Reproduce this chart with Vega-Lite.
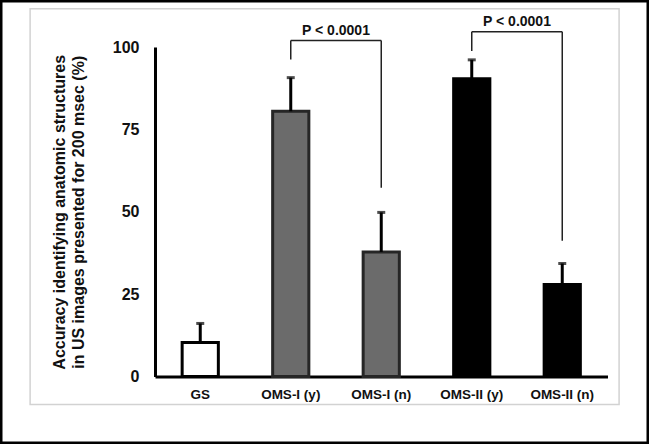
{
  "$schema": "https://vega.github.io/schema/vega-lite/v6.json",
  "width": 649,
  "height": 444,
  "autosize": "none",
  "padding": 0,
  "background": "white",
  "config": {
    "view": {"stroke": "black", "strokeWidth": 5},
    "font": "Liberation Sans",
    "text": {"font": "Liberation Sans"}
  },
  "datasets": {
    "groups": [
      {"group": "GS", "accuracy": 10.3, "upper": 16.1, "kind": "GS"},
      {"group": "OMS-I (y)", "accuracy": 80.5, "upper": 90.7, "kind": "OMS-I"},
      {"group": "OMS-I (n)", "accuracy": 37.8, "upper": 49.8, "kind": "OMS-I"},
      {"group": "OMS-II (y)", "accuracy": 90.4, "upper": 96.1, "kind": "OMS-II"},
      {"group": "OMS-II (n)", "accuracy": 27.9, "upper": 34.3, "kind": "OMS-II"}
    ],
    "legs": [
      {"group": "OMS-I (y)", "low": 96.2, "high": 102.0},
      {"group": "OMS-I (n)", "low": 57.3, "high": 102.0},
      {"group": "OMS-II (y)", "low": 98.8, "high": 104.6},
      {"group": "OMS-II (n)", "low": 41.2, "high": 104.6}
    ],
    "comparisons": [
      {"from": "OMS-I (y)", "to": "OMS-I (n)", "level": 102.0, "labelY": 105.0, "label": "P < 0.0001"},
      {"from": "OMS-II (y)", "to": "OMS-II (n)", "level": 104.6, "labelY": 107.6, "label": "P < 0.0001"}
    ],
    "panel": [
      {"first": "GS", "last": "OMS-II (n)", "bottom": -8.5, "top": 111.6}
    ]
  },
  "layer": [
    {
      "data": {"name": "groups"},
      "mark": {"type": "bar", "strokeWidth": 3},
      "encoding": {
        "x": {
          "field": "group",
          "type": "nominal",
          "scale": {
            "domain": ["GS", "OMS-I (y)", "OMS-I (n)", "OMS-II (y)", "OMS-II (n)"],
            "range": [155, 607.5],
            "paddingInner": 0.6,
            "paddingOuter": 0.3
          },
          "axis": {
            "orient": "bottom",
            "offset": -67.5,
            "title": null,
            "labelAngle": 0,
            "ticks": false,
            "labelPadding": 11,
            "labelFont": "Liberation Sans",
            "labelFontWeight": "bold",
            "labelFontSize": 13.5,
            "labelColor": "#111",
            "domainColor": "black",
            "domainWidth": 3
          }
        },
        "y": {
          "field": "accuracy",
          "type": "quantitative",
          "scale": {"domain": [0, 100], "range": [376.5, 47], "nice": false},
          "axis": {
            "orient": "left",
            "offset": -155,
            "values": [0, 25, 50, 75, 100],
            "ticks": false,
            "grid": false,
            "labelPadding": 16,
            "labelFont": "Liberation Sans",
            "labelFontWeight": "bold",
            "labelFontSize": 16,
            "labelColor": "#111",
            "domainColor": "black",
            "domainWidth": 3,
            "title": ["Accuracy identifying anatomic structures", "in US images presented for 200 msec (%)"],
            "titleFont": "Liberation Sans",
            "titleFontWeight": "bold",
            "titleFontSize": 16,
            "titleLineHeight": 19,
            "titleColor": "#111",
            "titlePadding": 26
          }
        },
        "fill": {
          "field": "kind",
          "type": "nominal",
          "scale": {"domain": ["GS", "OMS-I", "OMS-II"], "range": ["#ffffff", "#6b6b6b", "#000000"]},
          "legend": null
        },
        "stroke": {
          "field": "kind",
          "type": "nominal",
          "scale": {"domain": ["GS", "OMS-I", "OMS-II"], "range": ["#000000", "#262626", "#000000"]},
          "legend": null
        }
      }
    },
    {
      "data": {"name": "groups"},
      "mark": {"type": "rule", "strokeWidth": 3, "color": "black"},
      "encoding": {
        "x": {"field": "group", "type": "nominal"},
        "y": {"field": "accuracy", "type": "quantitative"},
        "y2": {"field": "upper"}
      }
    },
    {
      "data": {"name": "groups"},
      "mark": {"type": "tick", "size": 8, "thickness": 3, "color": "black", "orient": "horizontal"},
      "encoding": {
        "x": {"field": "group", "type": "nominal"},
        "y": {"field": "upper", "type": "quantitative"}
      }
    },
    {
      "data": {"name": "legs"},
      "mark": {"type": "rule", "strokeWidth": 1.5, "color": "#222"},
      "encoding": {
        "x": {"field": "group", "type": "nominal"},
        "y": {"field": "low", "type": "quantitative"},
        "y2": {"field": "high"}
      }
    },
    {
      "data": {"name": "comparisons"},
      "mark": {"type": "rule", "strokeWidth": 1.5, "color": "#222"},
      "encoding": {
        "x": {"field": "from", "type": "nominal"},
        "x2": {"field": "to"},
        "y": {"field": "level", "type": "quantitative"}
      }
    },
    {
      "data": {"name": "comparisons"},
      "mark": {"type": "text", "font": "Liberation Sans", "fontWeight": "bold", "fontSize": 14, "color": "#111", "baseline": "middle", "align": "center"},
      "encoding": {
        "x": {"field": "from", "type": "nominal", "bandPosition": 1.75},
        "y": {"field": "labelY", "type": "quantitative"},
        "text": {"field": "label"}
      }
    },
    {
      "data": {"name": "panel"},
      "mark": {"type": "rect", "fill": null, "fillOpacity": 0, "stroke": "#d2d2d2", "strokeWidth": 1.5},
      "encoding": {
        "x": {"field": "first", "type": "nominal", "bandPosition": -4.2},
        "x2": {"field": "last", "bandPosition": 2.07},
        "y": {"field": "bottom", "type": "quantitative"},
        "y2": {"field": "top"}
      }
    }
  ]
}
